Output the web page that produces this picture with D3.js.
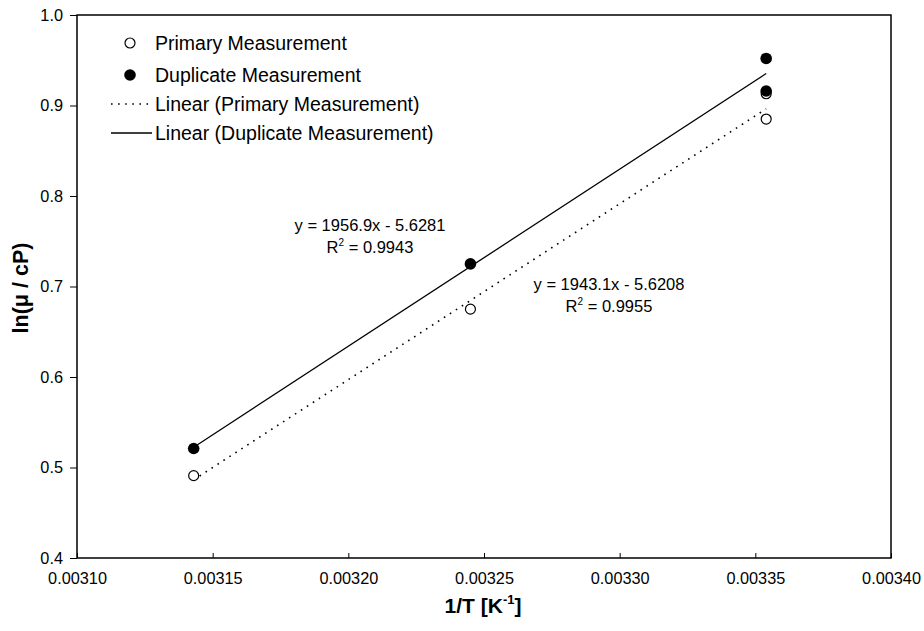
<!DOCTYPE html>
<html>
<head>
<meta charset="utf-8">
<script src="https://cdn.jsdelivr.net/npm/d3@7"></script>
<style>
  body { margin: 0; background: #fff; }
  text { font-family: "Liberation Sans", Arial, sans-serif; fill: #000; }
</style>
</head>
<body>
<div class="chart"></div>
<script>
var svgWidth = 924;
var svgHeight = 631;

var margin = { top: 15, right: 33, bottom: 73, left: 77 };
var width = svgWidth - margin.left - margin.right;
var height = svgHeight - margin.top - margin.bottom;

// data
var primaryX = [0.003143, 0.003245, 0.003354, 0.003354];
var primaryY = [0.491, 0.675, 0.913, 0.885];
var duplicateX = [0.003143, 0.003245, 0.003354, 0.003354];
var duplicateY = [0.521, 0.725, 0.952, 0.916];

// trendline coefficients (slope, intercept) as printed
var primaryFit = [1943.1, -5.6208];
var duplicateFit = [1956.9, -5.6281];

var xTicks = [0.00310, 0.00315, 0.00320, 0.00325, 0.00330, 0.00335, 0.00340];
var yTicks = [0.4, 0.5, 0.6, 0.7, 0.8, 0.9, 1.0];

var legendLabels = ["Primary Measurement", "Duplicate Measurement",
  "Linear (Primary Measurement)", "Linear (Duplicate Measurement)"];

var svg = d3.select(".chart")
  .append("svg")
  .attr("width", svgWidth)
  .attr("height", svgHeight);

var chartGroup = svg.append("g")
  .attr("transform", `translate(${margin.left}, ${margin.top})`);

var xScale = d3.scaleLinear().domain([0.00310, 0.00340]).range([0, width]);
var yScale = d3.scaleLinear().domain([0.4, 1.0]).range([height, 0]);

// axes
var bottomAxis = d3.axisBottom(xScale)
  .tickValues(xTicks)
  .tickSizeInner(-5)
  .tickSizeOuter(0)
  .tickPadding(14)
  .tickFormat(d3.format(".5f"));

var leftAxis = d3.axisLeft(yScale)
  .tickValues(yTicks)
  .tickSizeInner(7)
  .tickSizeOuter(0)
  .tickPadding(7)
  .tickFormat(d3.format(".1f"));

var xAxis = chartGroup.append("g")
  .attr("transform", `translate(0, ${height})`)
  .call(bottomAxis);

var yAxis = chartGroup.append("g").call(leftAxis);

[xAxis, yAxis].forEach(function (ax) {
  ax.select(".domain").remove();
  ax.selectAll("line").attr("stroke", "#000").attr("stroke-width", 1);
  ax.selectAll("text")
    .style("font-family", "'Liberation Sans', Arial, sans-serif")
    .style("font-size", "16.3px")
    .attr("fill", "#000");
});

// frame
chartGroup.append("rect")
  .attr("x", 0)
  .attr("y", 0)
  .attr("width", width)
  .attr("height", height)
  .attr("fill", "none")
  .attr("stroke", "#000")
  .attr("stroke-width", 1.5);

// trendlines
function fitLine(fit, xs, dash) {
  var x0 = d3.min(xs), x1 = d3.max(xs);
  chartGroup.append("line")
    .attr("x1", xScale(x0))
    .attr("y1", yScale(fit[0] * x0 + fit[1]))
    .attr("x2", xScale(x1))
    .attr("y2", yScale(fit[0] * x1 + fit[1]))
    .attr("stroke", "#000")
    .attr("stroke-width", dash ? 1.6 : 1.3)
    .attr("stroke-dasharray", dash ? "1.6,5.5" : null);
}
fitLine(primaryFit, primaryX, true);
fitLine(duplicateFit, duplicateX, false);

// points
chartGroup.selectAll(".primary")
  .data(d3.zip(primaryX, primaryY))
  .enter()
  .append("circle")
  .attr("class", "primary")
  .attr("cx", d => xScale(d[0]))
  .attr("cy", d => yScale(d[1]))
  .attr("r", 5)
  .attr("fill", "#fff")
  .attr("stroke", "#000")
  .attr("stroke-width", 1.2);

chartGroup.selectAll(".duplicate")
  .data(d3.zip(duplicateX, duplicateY))
  .enter()
  .append("circle")
  .attr("class", "duplicate")
  .attr("cx", d => xScale(d[0]))
  .attr("cy", d => yScale(d[1]))
  .attr("r", 5.8)
  .attr("fill", "#000");

// equation labels
function eqLabel(fit, r2, cx, y) {
  var sign = fit[1] < 0 ? " - " : " + ";
  chartGroup.append("text")
    .attr("x", cx - margin.left)
    .attr("y", y - margin.top)
    .attr("text-anchor", "middle")
    .style("font-size", "16.5px")
    .text(`y = ${fit[0]}x${sign}${Math.abs(fit[1])}`);
  var t = chartGroup.append("text")
    .attr("x", cx - margin.left)
    .attr("y", y - margin.top + 22)
    .attr("text-anchor", "middle")
    .style("font-size", "16.5px");
  t.append("tspan").text("R");
  t.append("tspan").attr("dy", -7).style("font-size", "10px").text("2");
  t.append("tspan").attr("dy", 7).text(` = ${r2}`);
}
eqLabel(duplicateFit, "0.9943", 370, 231);
eqLabel(primaryFit, "0.9955", 609, 290);

// legend
var legend = svg.append("g");
var rows = [43, 75, 104, 133];

legend.append("circle")
  .attr("cx", 130).attr("cy", rows[0]).attr("r", 5)
  .attr("fill", "#fff").attr("stroke", "#000").attr("stroke-width", 1.2);
legend.append("circle")
  .attr("cx", 130).attr("cy", rows[1]).attr("r", 5.8)
  .attr("fill", "#000");
legend.append("line")
  .attr("x1", 111).attr("x2", 152).attr("y1", rows[2]).attr("y2", rows[2])
  .attr("stroke", "#000").attr("stroke-width", 1.6)
  .attr("stroke-dasharray", "1.6,5.5");
legend.append("line")
  .attr("x1", 111).attr("x2", 152).attr("y1", rows[3]).attr("y2", rows[3])
  .attr("stroke", "#000").attr("stroke-width", 1.3);

legend.selectAll(".leg-text")
  .data(legendLabels)
  .enter()
  .append("text")
  .attr("class", "leg-text")
  .attr("x", 155)
  .attr("y", (d, i) => rows[i] + 7)
  .style("font-size", "19.5px")
  .text(d => d);

// axis titles
var xTitle = svg.append("text")
  .attr("x", 483)
  .attr("y", 613)
  .attr("text-anchor", "middle")
  .style("font-size", "21px")
  .style("font-weight", "bold");
xTitle.append("tspan").text("1/T [K");
xTitle.append("tspan").attr("dy", -9).style("font-size", "13px").text("-1");
xTitle.append("tspan").attr("dy", 9).text("]");

svg.append("text")
  .attr("transform", "translate(28, 288) rotate(-90)")
  .attr("text-anchor", "middle")
  .style("font-size", "21.5px")
  .style("font-weight", "bold")
  .text("ln(\u03bc / cP)");
</script>
</body>
</html>
